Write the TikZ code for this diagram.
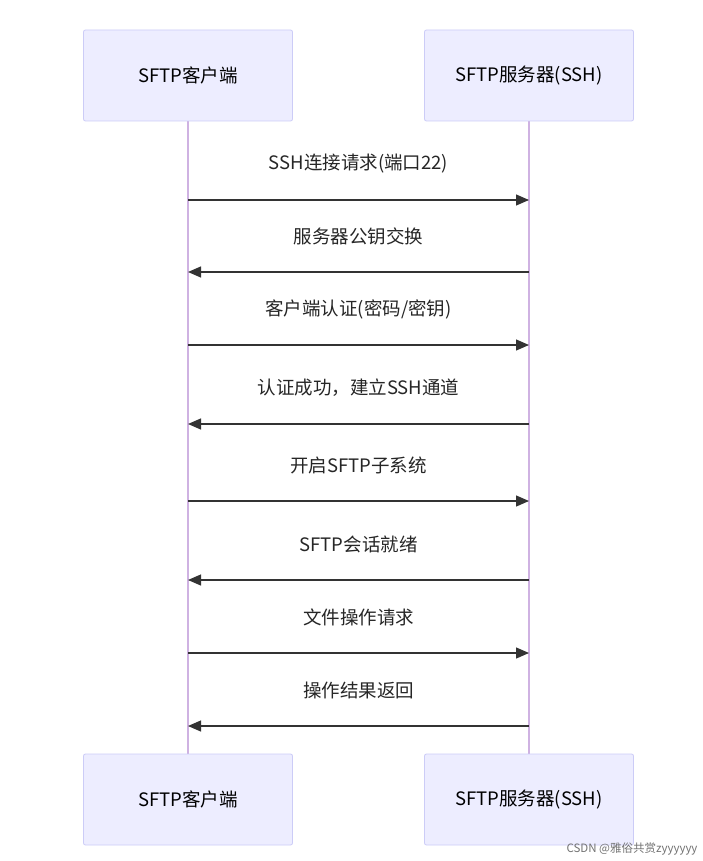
\documentclass[tikz,border=0pt]{standalone}
\usepackage{fontspec}
\setmainfont{Noto Sans CJK SC}
\usetikzlibrary{arrows.meta}
\begin{document}
\begin{tikzpicture}[x=1pt,y=-1pt,
  actor/.style={draw=black!15!blue!20!white, fill=blue!7!white, rounded corners=2pt, minimum width=209pt, minimum height=91pt, font=\fontsize{18.5}{22}\selectfont, line width=0.8pt},
  life/.style={draw=blue!25!violet!30!white, line width=1.5pt},
  msg/.style={draw=black!80, line width=1.2pt, -{Triangle[length=13pt,width=11pt]}},
  lbl/.style={font=\fontsize{18.5}{22}\selectfont, text=black!85}]
\useasboundingbox (0,0) rectangle (702,861);
\fill[white] (0,0) rectangle (702,861);
\coordinate (lt) at (188,121); \coordinate (lb) at (188,754);
\coordinate (rt) at (529,121); \coordinate (rb) at (529,754);
\draw[life] (lt) -- (lb);
\draw[life] (rt) -- (rb);
\node[actor] (c1) at (188,75.5) {SFTP客户端};
\node[actor] (s1) at (529,75.5) {SFTP服务器(SSH)};
\node[actor] (c2) at (188,799.5) {SFTP客户端};
\node[actor] (s2) at (529,799.5) {SFTP服务器(SSH)};
\foreach \y/\t/\d [count=\i] in {200/{SSH连接请求(端口22)}/r, 272/{服务器公钥交换}/l, 345/{客户端认证(密码{/}密钥)}/r, 424/{认证成功，建立SSH通道}/l, 501/{开启SFTP子系统}/r, 580/{SFTP会话就绪}/l, 653/{文件操作请求}/r, 726/{操作结果返回}/l}{
  \coordinate (a\i) at (188,\y); \coordinate (b\i) at (529,\y);
  \node[lbl] (m\i) at (358.5,\y-36) {\t};
  \if r\d \draw[msg] (a\i) -- (b\i); \else \draw[msg] (b\i) -- (a\i); \fi
}
\node[font=\fontsize{11.5}{13}\selectfont, text=black!55, anchor=east] (wm) at (701,849) {CSDN @雅俗共赏zyyyyyy};
\end{tikzpicture}
\end{document}
